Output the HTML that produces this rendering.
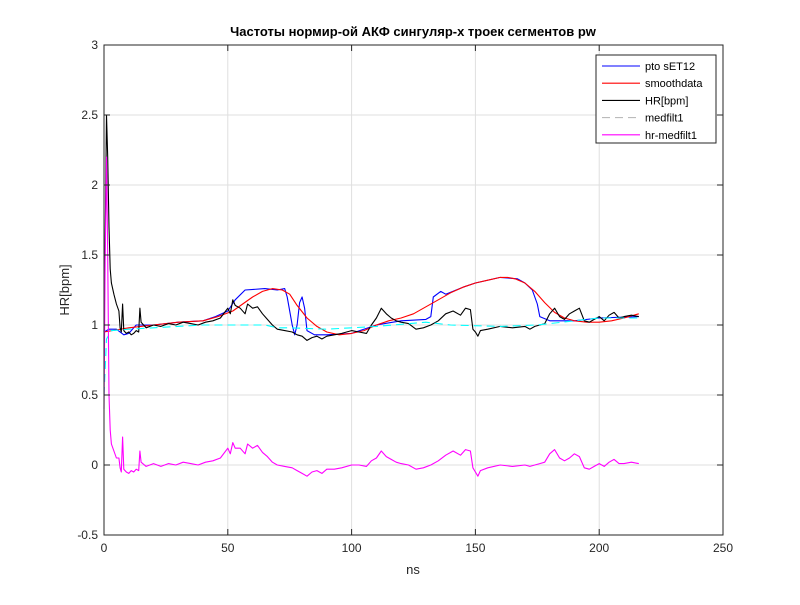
<!DOCTYPE html>
<html><head><meta charset="utf-8"><style>
body{margin:0;background:#fff}
svg text{font-family:"Liberation Sans",sans-serif}
</style></head><body>
<svg id="chart" width="800" height="600" viewBox="0 0 800 600">
<rect x="0" y="0" width="800" height="600" fill="#fff"/>
<rect x="104" y="45" width="619" height="490" fill="#fff" stroke="none"/>
<g id="grid"></g>
<g id="series"></g>
<rect x="104" y="45" width="619" height="490" fill="none" stroke="#262626" stroke-width="1"/>
<g id="ticks"></g>
<text x="413" y="36" text-anchor="middle" font-size="13" font-weight="bold" fill="#000">Частоты нормир-ой АКФ сингуляр-х троек сегментов pw</text>
<text x="413" y="574" text-anchor="middle" font-size="13" fill="#262626">ns</text>
<text transform="translate(69,290) rotate(-90)" text-anchor="middle" font-size="13" fill="#262626">HR[bpm]</text>
<g id="legend">
<rect x="596" y="55" width="120" height="88" fill="#fff" stroke="#262626" stroke-width="1"/>
</g>
</svg>
<script>
const xTicks=[0,50,100,150,200,250];
const yTicks=[-0.5,0,0.5,1,1.5,2,2.5,3];
const yTickLabels=["-0.5","0","0.5","1","1.5","2","2.5","3"];
const hrX=[0,0.5,1,1.5,2,2.5,3,4,5,6,6.5,7,7.5,8,9,10,11,12,13,14,14.5,15,17,20,23,26,29,32,35,38,41,44,47,50,51,52,53,55,57,58,60,62,64,66,68,70,73,76,78,80,82,84,86,88,90,93,96,100,103,106,108,110,112,114,116,118,120,123,126,129,132,135,138,141,144,146,148,149,150,151,152,155,160,165,170,172,174,176,178,180,182,184,186,188,190,192,194,196,198,200,202,204,206,208,210,213,216];
const hrY=[0.95,1.6,2.5,2.2,1.7,1.4,1.3,1.22,1.15,1.1,0.98,0.95,1.15,0.96,0.94,0.95,0.93,0.94,0.96,0.95,1.12,1.02,0.98,1.0,0.99,1.01,1.0,1.02,1.01,1.0,1.02,1.03,1.05,1.12,1.08,1.18,1.14,1.12,1.08,1.15,1.12,1.13,1.08,1.04,1.0,0.97,0.96,0.95,0.93,0.92,0.89,0.91,0.92,0.9,0.92,0.93,0.94,0.96,0.95,0.94,1.0,1.05,1.12,1.08,1.05,1.03,1.02,1.01,0.97,0.98,1.0,1.03,1.08,1.1,1.07,1.12,1.11,0.97,0.95,0.92,0.96,0.97,0.99,0.98,0.99,0.97,0.99,1.0,1.01,1.08,1.12,1.06,1.04,1.08,1.1,1.12,1.03,1.02,1.04,1.06,1.03,1.07,1.09,1.05,1.06,1.07,1.06,1.06];
const magX=[0,0.5,1,1.5,2,2.5,3,4,5,6,6.5,7,7.5,8,9,10,11,12,13,14,14.5,15,17,20,23,26,29,32,35,38,41,44,47,50,51,52,53,55,57,58,60,62,64,66,68,70,73,76,78,80,82,84,86,88,90,93,96,100,103,106,108,110,112,114,116,118,120,123,126,129,132,135,138,141,144,146,148,149,150,151,152,155,160,165,170,172,174,176,178,180,182,184,186,188,190,192,194,196,198,200,202,204,206,208,210,213,216];
const magY=[0.4,1.5,2.2,1.5,0.5,0.25,0.15,0.1,0.05,0.05,-0.02,-0.05,0.2,-0.03,-0.05,-0.06,-0.04,-0.05,-0.03,-0.04,0.1,0.02,-0.01,0.01,-0.01,0.01,0.0,0.02,0.01,0.0,0.02,0.03,0.05,0.12,0.08,0.16,0.12,0.12,0.08,0.15,0.12,0.14,0.09,0.06,0.02,0.0,-0.01,-0.02,-0.04,-0.06,-0.08,-0.05,-0.04,-0.06,-0.03,-0.03,-0.02,0.0,0.0,-0.01,0.03,0.05,0.1,0.06,0.04,0.02,0.01,0.0,-0.03,-0.02,0.0,0.03,0.07,0.1,0.07,0.11,0.1,-0.02,-0.05,-0.08,-0.04,-0.02,0.0,-0.01,0.0,-0.01,0.0,0.01,0.02,0.08,0.11,0.05,0.03,0.05,0.08,0.06,-0.02,-0.03,-0.01,0.01,-0.01,0.02,0.04,0.01,0.01,0.02,0.01,0.03];
const blueX=[0,2,5,8,10,13,20,30,40,45,50,53,57,65,70,73,74,76,77,78,79,80,81,82,85,90,100,110,120,130,132,133,136,138,145,150,160,167,170,173,175,176,180,190,200,216];
const blueY=[0.95,0.97,0.97,0.93,0.94,1.0,1.0,1.02,1.03,1.06,1.1,1.18,1.25,1.26,1.25,1.26,1.2,1.0,0.93,1.0,1.16,1.2,1.12,0.96,0.93,0.93,0.94,1.0,1.03,1.04,1.06,1.2,1.24,1.22,1.27,1.3,1.34,1.33,1.3,1.25,1.15,1.06,1.03,1.03,1.05,1.06];
const redX=[0,10,20,30,40,46,52,56,60,64,68,72,75,78,82,86,90,95,100,105,110,115,120,125,130,135,140,145,150,155,160,163,166,170,174,178,182,186,190,195,200,205,210,216];
const redY=[0.95,0.98,1.0,1.02,1.03,1.06,1.1,1.15,1.2,1.24,1.26,1.25,1.22,1.14,1.05,0.99,0.95,0.93,0.94,0.96,1.0,1.03,1.05,1.08,1.13,1.18,1.23,1.27,1.3,1.32,1.34,1.34,1.33,1.3,1.24,1.16,1.09,1.05,1.03,1.02,1.02,1.03,1.05,1.08];
const cyanX=[0,1,3,10,20,40,65,70,75,90,110,130,140,160,175,180,200,216];
const cyanY=[0.5,0.9,0.96,0.97,0.98,1.0,1.0,0.98,0.98,0.97,0.99,1.02,1.0,0.99,1.0,1.01,1.05,1.05];
const X0=104,X1=723,Y0=535,Y1=45;
const xs=v=>X0+(v-0)/250*(X1-X0);
const ys=v=>Y0-(v+0.5)/3.5*(Y0-Y1);
const NS="http://www.w3.org/2000/svg";
const grid=document.getElementById('grid'),ticks=document.getElementById('ticks'),ser=document.getElementById('series');
function mk(tag,attrs,parent){const e=document.createElementNS(NS,tag);for(const k in attrs)e.setAttribute(k,attrs[k]);parent.appendChild(e);return e;}
xTicks.forEach(t=>{
 const g=mk('line',{x1:xs(t),x2:xs(t),y1:Y1,y2:Y0,stroke:'#dfdfdf','stroke-width':1},grid);
 
 
 mk('line',{x1:xs(t),x2:xs(t),y1:Y0,y2:Y0-6,stroke:'#262626'},ticks);
 mk('line',{x1:xs(t),x2:xs(t),y1:Y1,y2:Y1+6,stroke:'#262626'},ticks);
 const l=mk('text',{x:xs(t),y:Y0+17,'text-anchor':'middle','font-size':12,fill:'#262626'},ticks);
 l.textContent=String(t);
 
 
});
yTicks.forEach((t,i)=>{
 const g=mk('line',{x1:X0,x2:X1,y1:ys(t),y2:ys(t),stroke:'#dfdfdf','stroke-width':1},grid);
 
 
 mk('line',{x1:X0,x2:X0+6,y1:ys(t),y2:ys(t),stroke:'#262626'},ticks);
 mk('line',{x1:X1,x2:X1-6,y1:ys(t),y2:ys(t),stroke:'#262626'},ticks);
 const l=mk('text',{x:X0-6,y:ys(t)+4,'text-anchor':'end','font-size':12,fill:'#262626'},ticks);
 l.textContent=yTickLabels[i];
 
 
});
function line(X,Y,color,name,dash){
 const p=mk('polyline',{points:X.map((x,i)=>xs(x).toFixed(1)+','+ys(Y[i]).toFixed(1)).join(' '),fill:'none',stroke:color,'stroke-width':1.1,'stroke-linejoin':'round'},ser);
 if(dash)p.setAttribute('stroke-dasharray',dash);
 
 
}
line(blueX,blueY,'#0000ff','series-pto-set12');
line(redX,redY,'#ff0000','series-smoothdata');
line(hrX,hrY,'#000000','series-hr-bpm');
line(cyanX,cyanY,'#00ffff','series-medfilt1','8,5');
line(magX,magY,'#ff00ff','series-hr-medfilt1');
const legNames=['pto sET12','smoothdata','HR[bpm]','medfilt1','hr-medfilt1'];
const legColors=['#0000ff','#ff0000','#000000','#bbbbbb','#ff00ff'];
const leg=document.getElementById('legend');
legNames.forEach((n,i)=>{
 const y=66+i*17.2;
 const s=mk('line',{x1:602,x2:640,y1:y,y2:y,stroke:legColors[i],'stroke-width':1.1},leg);
 if(i===3)s.setAttribute('stroke-dasharray','8,5');
 const t=mk('text',{x:645,y:y+4,'font-size':11,fill:'#000'},leg);
 t.textContent=n;
 
 
});
</script>
</body></html>
